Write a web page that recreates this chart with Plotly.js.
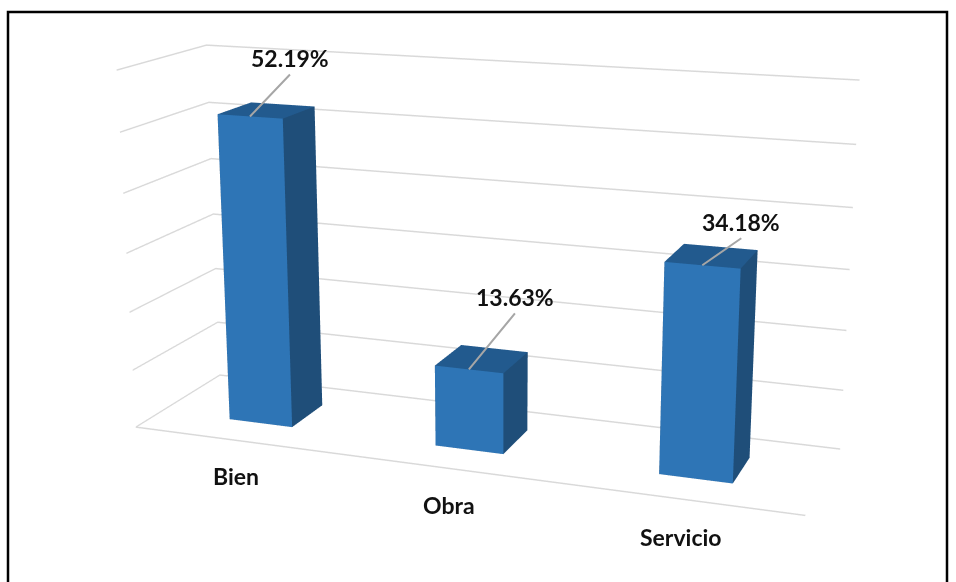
<!DOCTYPE html>
<html><head><meta charset="utf-8">
<script src="https://cdn.plot.ly/plotly-3.0.1.min.js"></script>
<style>html,body{margin:0;padding:0;background:#fff;overflow:hidden;width:956px;height:582px}#c{position:absolute;left:-292px;top:-488px;width:1550px;height:1550px}</style>
</head><body><div id="c"></div>
<script>
const categories = ["Bien","Obra","Servicio"];
const values = [52.19,13.63,34.18];
const valueLabels = ["52.19%","13.63%","34.18%"];
const barHalfWidth = 0.156, depthFront = 0.30, depthBack = 0.70;
const colFront="#2E75B6", colSide="#1F4E79", colTop="#225A8E";
const labelOffsets = [[40,-42],[46,-56],[39,-27]];
const catShift = [-36,-37,-38];
const P = 1550, offL = 292, offT = 488;

const traces = categories.map((c,i)=>{
  const x0=i+0.5-barHalfWidth,x1=i+0.5+barHalfWidth,y0=depthFront,y1=depthBack,z0=0,z1=values[i];
  const X=[x0,x1,x1,x0,x0,x1,x1,x0],Y=[y0,y0,y1,y1,y0,y0,y1,y1],Z=[z0,z0,z0,z0,z1,z1,z1,z1];
  const I=[0,0,1,1,4,4,3,3,0,0,2,2],J=[1,5,2,6,5,6,7,6,3,7,1,0],K=[5,4,6,5,6,7,6,2,7,4,0,3];
  const FC=[colFront,colFront,colSide,colSide,colTop,colTop,colSide,colSide,colSide,colSide,colSide,colSide];
  return {type:"mesh3d",x:X,y:Y,z:Z,i:I,j:J,k:K,facecolor:FC,flatshading:true,showscale:false,
    lighting:{ambient:1,diffuse:0,specular:0,roughness:1,fresnel:0},hoverinfo:"skip",name:c};
});
const font={family:"Lato, sans-serif",size:23,color:"#111"};
const anns=[];
categories.forEach((c,i)=>{
  anns.push({x:i+0.5,y:depthFront,z:values[i],text:"<b>"+valueLabels[i]+"</b>",showarrow:true,arrowhead:0,arrowwidth:2,arrowcolor:"#a6a6a6",
    ax:labelOffsets[i][0],ay:labelOffsets[i][1],xanchor:"center",yanchor:"bottom",borderpad:1,font});
  anns.push({x:i+0.5,y:0,z:0,text:"<b>"+c+"</b>",showarrow:false,yshift:catShift[i],font});
});
const hideAxis={showticklabels:false,showgrid:false,zeroline:false,showbackground:false,showspikes:false,title:{text:""},ticks:""};
const layout={width:P,height:P,margin:{l:0,r:0,t:0,b:0},paper_bgcolor:"#fff",showlegend:false,
  shapes:[{type:"rect",xref:"paper",yref:"paper",x0:(8+offL)/P,x1:(947+offL)/P,y0:1-(600+offT)/P,y1:1-(12+offT)/P,line:{color:"#000",width:2.5}}],
  scene:{domain:{x:[0,1],y:[0,1]},aspectmode:"manual",aspectratio:{x:1.654,y:0.4375,z:0.883},
    camera:{eye:{x:1.478,y:-4.001,z:1.1155},center:{x:0.009,y:-0.0155,z:-0.058},up:{x:-0.0907,y:0.2504,z:0.9637}},
    xaxis:{...hideAxis,range:[0,3],showline:true,linecolor:"#d9d9d9",linewidth:3},
    yaxis:{...hideAxis,range:[0,1]},
    zaxis:{...hideAxis,range:[0,60],dtick:10,showgrid:true,gridcolor:"#d9d9d9",gridwidth:3},
    annotations:anns}
};
Plotly.newPlot("c",traces,layout,{displayModeBar:false});
</script></body></html>
